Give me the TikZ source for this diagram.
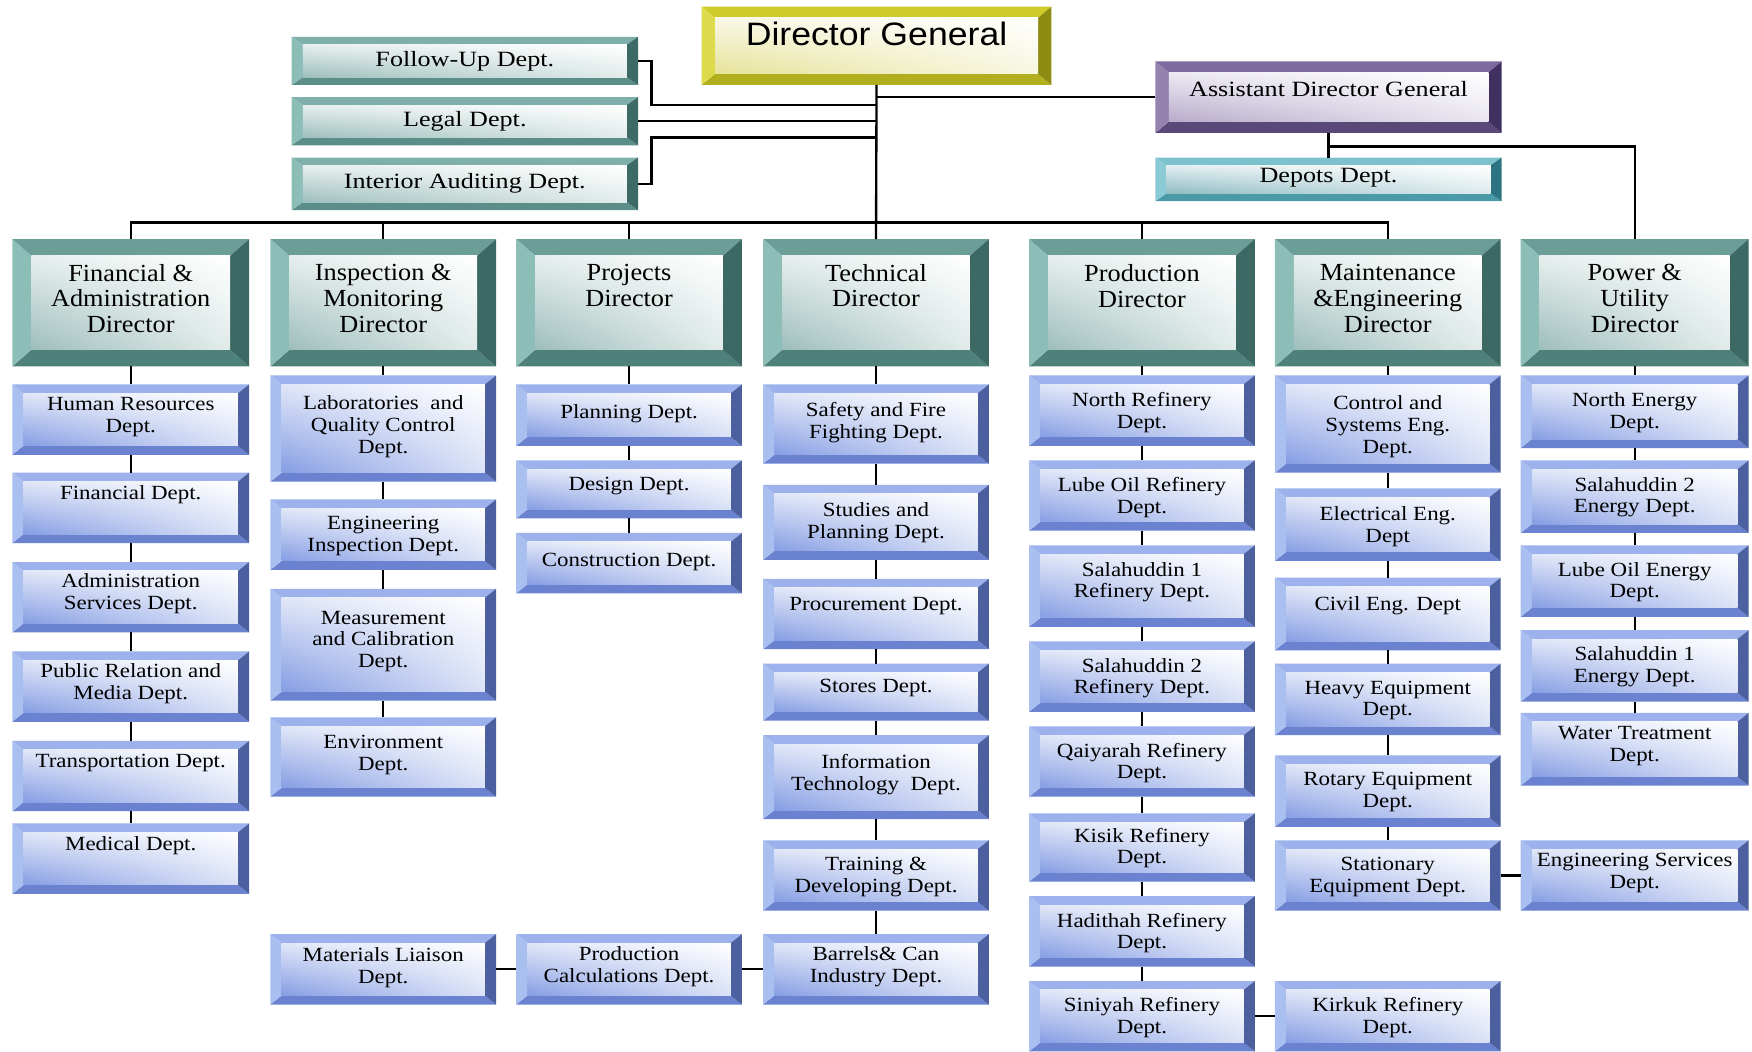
\documentclass[tikz,border=0pt]{standalone}
\usepackage{fontspec}
\setmainfont{Liberation Serif}
\newfontfamily\deptfont{Liberation Serif}[FakeStretch=1.14]
\newfontfamily\dirfont{Liberation Serif}[FakeStretch=1.07]
\newfontfamily\topfont{Liberation Serif}[FakeStretch=1.2]
\newfontfamily\dgfont{Liberation Sans}[FakeStretch=1.1]
\usetikzlibrary{shadings}

% palettes
\definecolor{dept-top}{HTML}{9DB2EC}
\definecolor{dept-left}{HTML}{A9BFF0}
\definecolor{dept-right}{HTML}{4C5F9E}
\definecolor{dept-bot}{HTML}{6A82D0}
\definecolor{dept-tint}{HTML}{859DE3}
\definecolor{dir-top}{HTML}{6C9E98}
\definecolor{dir-left}{HTML}{8DBDB7}
\definecolor{dir-right}{HTML}{3C6964}
\definecolor{dir-bot}{HTML}{4F817B}
\definecolor{dir-tint}{HTML}{9DBEBB}
\definecolor{top-top}{HTML}{7EAFAA}
\definecolor{top-left}{HTML}{8CBDB7}
\definecolor{top-right}{HTML}{3D6A66}
\definecolor{top-bot}{HTML}{5C8E89}
\definecolor{top-tint}{HTML}{9DBFBC}
\definecolor{dg-top}{HTML}{CFCB2A}
\definecolor{dg-left}{HTML}{DDDA4C}
\definecolor{dg-right}{HTML}{8E8B12}
\definecolor{dg-bot}{HTML}{B2AF1E}
\definecolor{dg-tint}{HTML}{E6E39A}
\definecolor{adg-top}{HTML}{7E6A9E}
\definecolor{adg-left}{HTML}{9483AF}
\definecolor{adg-right}{HTML}{3F3060}
\definecolor{adg-bot}{HTML}{5A4879}
\definecolor{adg-tint}{HTML}{B7ABCB}
\definecolor{dep-top}{HTML}{7DC1CE}
\definecolor{dep-left}{HTML}{8ACBD6}
\definecolor{dep-right}{HTML}{2C7482}
\definecolor{dep-bot}{HTML}{4A9AA8}
\definecolor{dep-tint}{HTML}{8FBCC4}

\def\bwxdept{10}\def\bwydept{8}
\def\bwxdir{17}\def\bwydir{15}
\def\bwxtop{10}\def\bwytop{7}
\def\bwxdg{12}\def\bwydg{10}
\def\bwxadg{12}\def\bwyadg{10}
\def\bwxdep{10}\def\bwydep{7}
% vertical text offsets per palette
\def\tdydept{2}\def\tdydir{0}\def\tdytop{1}\def\tdydg{0}\def\tdyadg{1}\def\tdydep{1}

\tikzset{
  boxn/.style={rectangle, inner sep=0pt, outer sep=0pt, draw=none},
  txtdept/.style={align=center, inner sep=0pt, font=\deptfont\fontsize{18}{19.5}\selectfont},
  txtdir/.style={align=center, inner sep=0pt, font=\dirfont\fontsize{22}{23}\selectfont},
  txttop/.style={align=center, inner sep=0pt, font=\topfont\fontsize{19.5}{21}\selectfont},
  txtadg/.style={txttop},
  txtdep/.style={txttop},
  txtdg/.style={align=center, inner sep=0pt, font=\dgfont\fontsize{29}{31}\selectfont},
  conn/.style={line width=2.1pt, black},
}

% \bx{name}{x1}{y1}{x2}{y2}{palette}{text y}{text}
\newcommand\bx[8]{%
  \edef\bwx{\csname bwx#6\endcsname}\edef\bwy{\csname bwy#6\endcsname}%
  \edef\tdy{\csname tdy#6\endcsname}%
  \fill[#6-top] (#2,#3) -- (#4,#3) -- ({#4-\bwx},{#3+\bwy}) -- ({#2+\bwx},{#3+\bwy}) -- cycle;
  \fill[#6-bot] (#2,#5) -- (#4,#5) -- ({#4-\bwx},{#5-\bwy}) -- ({#2+\bwx},{#5-\bwy}) -- cycle;
  \fill[#6-left] (#2,#3) -- ({#2+\bwx},{#3+\bwy}) -- ({#2+\bwx},{#5-\bwy}) -- (#2,#5) -- cycle;
  \fill[#6-right] (#4,#3) -- ({#4-\bwx},{#3+\bwy}) -- ({#4-\bwx},{#5-\bwy}) -- (#4,#5) -- cycle;
  \shade[upper left=white!75!#6-tint, upper right=white, lower right=white!70!#6-tint, lower left=#6-tint]
    ({#2+\bwx},{#3+\bwy}) rectangle ({#4-\bwx},{#5-\bwy});
  \node[boxn, minimum width={(#4-#2)*1pt}, minimum height={(#5-#3)*1pt}] (#1) at ({(#2+#4)/2},{(#3+#5)/2}) {};
  \node[txt#6] (#1-t) at ({(#2+#4)/2},{#7+\tdy}) {#8};
}

\begin{document}
\begin{tikzpicture}[x=1pt,y=-1pt]
\useasboundingbox (0,0) rectangle (1568,941);
\fill[white] (0,0) rectangle (1568,941);

% top level
\bx{dg}{628}{6}{941}{76}{dg}{30}{Director General}
\bx{follow}{261}{33}{571}{76}{top}{54}{Follow-Up Dept.}
\bx{legal}{261}{87}{571}{130}{top}{108}{Legal Dept.}
\bx{interior}{261}{141}{571}{188}{top}{163}{Interior Auditing Dept.}
\bx{adg}{1034}{55}{1344}{119}{adg}{79}{Assistant Director General}
\bx{depots}{1034}{141}{1344}{180}{dep}{158}{Depots Dept.}

% directors
\bx{fin}{11}{214}{223}{328}{dir}{267}{Financial \&\\Administration\\Director}
\bx{insp}{242}{214}{444}{328}{dir}{267}{Inspection \&\\Monitoring\\Director}
\bx{proj}{462}{214}{664}{328}{dir}{255.5}{Projects\\Director}
\bx{tech}{683}{214}{885}{328}{dir}{255.5}{Technical\\Director}
\bx{prodn}{921}{214}{1123}{328}{dir}{256}{Production\\Director}
\bx{maint}{1141}{214}{1343}{328}{dir}{267}{Maintenance\\\&Engineering\\Director}
\bx{power}{1361}{214}{1565}{328}{dir}{267}{Power \&\\Utility\\Director}

% column 1
\bx{hr}{11}{344}{223}{407}{dept}{371}{Human Resources\\Dept.}
\bx{finl}{11}{423}{223}{486}{dept}{441}{Financial Dept.}
\bx{admin}{11}{503}{223}{566}{dept}{529}{Administration\\Services Dept.}
\bx{pr}{11}{583}{223}{646}{dept}{610}{Public Relation and\\Media Dept.}
\bx{trans}{11}{663}{223}{726}{dept}{681}{Transportation Dept.}
\bx{med}{11}{737}{223}{800}{dept}{755}{Medical Dept.}

% column 2
\bx{labs}{242}{336}{444}{431}{dept}{380}{Laboratories~ and\\Quality Control\\Dept.}
\bx{engi}{242}{447}{444}{510}{dept}{478}{Engineering\\Inspection Dept.}
\bx{meas}{242}{527}{444}{627}{dept}{572}{Measurement\\and Calibration\\Dept.}
\bx{env}{242}{642}{444}{713}{dept}{674}{Environment\\Dept.}
\bx{mat}{242}{836}{444}{899}{dept}{864}{Materials Liaison\\Dept.}

% column 3
\bx{plan}{462}{344}{664}{399}{dept}{368}{Planning Dept.}
\bx{design}{462}{412}{664}{464}{dept}{433}{Design Dept.}
\bx{constr}{462}{477}{664}{531}{dept}{501}{Construction Dept.}
\bx{pcalc}{462}{836}{664}{899}{dept}{863}{Production\\Calculations Dept.}

% column 4
\bx{safety}{683}{344}{885}{415}{dept}{376}{Safety and Fire\\Fighting Dept.}
\bx{studies}{683}{434}{885}{501}{dept}{466}{Studies and\\Planning Dept.}
\bx{procure}{683}{518}{885}{581}{dept}{540}{Procurement Dept.}
\bx{stores}{683}{594}{885}{645}{dept}{614}{Stores Dept.}
\bx{it}{683}{658}{885}{733}{dept}{691}{Information\\Technology~ Dept.}
\bx{train}{683}{752}{885}{815}{dept}{783}{Training \&\\Developing Dept.}
\bx{barrels}{683}{836}{885}{899}{dept}{863}{Barrels\& Can\\Industry Dept.}

% column 5
\bx{north}{921}{336}{1123}{399}{dept}{367}{North Refinery\\Dept.}
\bx{lube}{921}{412}{1123}{475}{dept}{443}{Lube Oil Refinery\\Dept.}
\bx{salr1}{921}{488}{1123}{561}{dept}{519}{Salahuddin 1\\Refinery Dept.}
\bx{salr2}{921}{574}{1123}{637}{dept}{605}{Salahuddin 2\\Refinery Dept.}
\bx{qai}{921}{650}{1123}{713}{dept}{681}{Qaiyarah Refinery\\Dept.}
\bx{kisik}{921}{728}{1123}{789}{dept}{757}{Kisik Refinery\\Dept.}
\bx{hadi}{921}{802}{1123}{865}{dept}{833}{Hadithah Refinery\\Dept.}
\bx{sini}{921}{878}{1123}{941}{dept}{909}{Siniyah Refinery\\Dept.}

% column 6
\bx{ctrl}{1141}{336}{1343}{423}{dept}{380}{Control and\\Systems Eng.\\Dept.}
\bx{elec}{1141}{437}{1343}{502}{dept}{469}{Electrical Eng.\\Dept}
\bx{civil}{1141}{517}{1343}{582}{dept}{540}{Civil Eng. Dept}
\bx{heavy}{1141}{594}{1343}{658}{dept}{625}{Heavy Equipment\\Dept.}
\bx{rotary}{1141}{676}{1343}{740}{dept}{707}{Rotary Equipment\\Dept.}
\bx{stat}{1141}{752}{1343}{815}{dept}{783}{Stationary\\Equipment Dept.}
\bx{kirkuk}{1141}{878}{1343}{941}{dept}{909}{Kirkuk Refinery\\Dept.}

% column 7
\bx{ne}{1361}{336}{1565}{401}{dept}{367}{North Energy\\Dept.}
\bx{s2e}{1361}{412}{1565}{477}{dept}{443}{Salahuddin 2\\Energy Dept.}
\bx{loe}{1361}{488}{1565}{552}{dept}{519}{Lube Oil Energy\\Dept.}
\bx{s1e}{1361}{564}{1565}{628}{dept}{595}{Salahuddin 1\\Energy Dept.}
\bx{water}{1361}{638}{1565}{703}{dept}{666}{Water Treatment\\Dept.}
\bx{engs}{1361}{752}{1565}{815}{dept}{779}{Engineering Services\\Dept.}

% ---------- connectors ----------
\coordinate (bus) at (784,199);
\coordinate (fj) at (583,94);
\coordinate (ij) at (583,123);
\coordinate (aj) at (1188,131);

\draw[conn] (dg.south) -- (tech.north);
\draw[conn] (adg.west) -- (adg.west -| dg.south);
\draw[conn] (follow.east) -| (fj) -- (fj -| dg.south);
\draw[conn] (legal.east) -- (legal.east -| dg.south);
\draw[conn] (interior.east) -| (ij) -- (ij -| dg.south);
\draw[conn] (fin.north) |- (bus) -| (maint.north);
\draw[conn] (insp.north) -- (insp.north |- bus);
\draw[conn] (proj.north) -- (proj.north |- bus);
\draw[conn] (prodn.north) -- (prodn.north |- bus);
\draw[conn] (adg.south) -- (depots.north);
\draw[conn] (adg.south |- aj) -| (power.north);

% column chains
\draw[conn] (fin.south) -- (hr.north) (hr.south) -- (finl.north) (finl.south) -- (admin.north)
  (admin.south) -- (pr.north) (pr.south) -- (trans.north) (trans.south) -- (med.north);
\draw[conn] (insp.south) -- (labs.north) (labs.south) -- (engi.north) (engi.south) -- (meas.north)
  (meas.south) -- (env.north);
\draw[conn] (proj.south) -- (plan.north) (plan.south) -- (design.north) (design.south) -- (constr.north);
\draw[conn] (tech.south) -- (safety.north) (safety.south) -- (studies.north) (studies.south) -- (procure.north)
  (procure.south) -- (stores.north) (stores.south) -- (it.north) (it.south) -- (train.north)
  (train.south) -- (barrels.north);
\draw[conn] (prodn.south) -- (north.north) (north.south) -- (lube.north) (lube.south) -- (salr1.north)
  (salr1.south) -- (salr2.north) (salr2.south) -- (qai.north) (qai.south) -- (kisik.north)
  (kisik.south) -- (hadi.north) (hadi.south) -- (sini.north);
\draw[conn] (maint.south) -- (ctrl.north) (ctrl.south) -- (elec.north) (elec.south) -- (civil.north)
  (civil.south) -- (heavy.north) (heavy.south) -- (rotary.north) (rotary.south) -- (stat.north);
\draw[conn] (power.south) -- (ne.north) (ne.south) -- (s2e.north) (s2e.south) -- (loe.north)
  (loe.south) -- (s1e.north) (s1e.south) -- (water.north);

% side links
\draw[conn] (mat.east) -- (pcalc.west);
\draw[conn] (pcalc.east) -- (barrels.west);
\draw[conn] (stat.east) -- (engs.west);
\draw[conn] (sini.east) -- (kirkuk.west);
\end{tikzpicture}
\end{document}
